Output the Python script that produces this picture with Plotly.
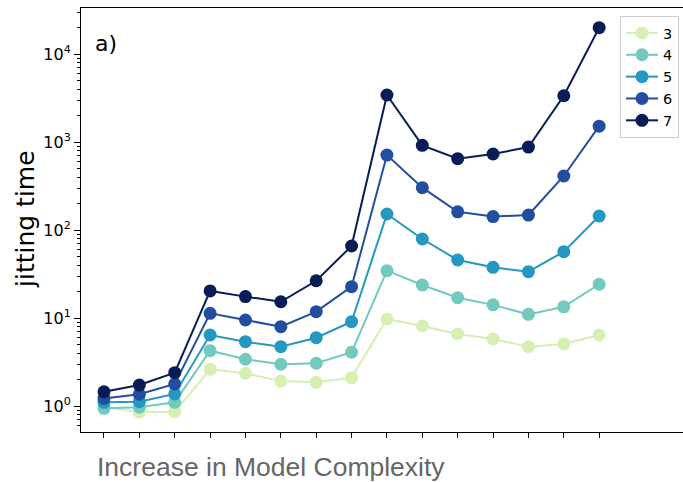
import plotly.graph_objects as go

steps = list(range(15))
series_names = ["3", "4", "5", "6", "7"]
s3 = [0.98, 0.85, 0.86, 2.61, 2.35, 1.92, 1.86, 2.10, 9.75, 8.11, 6.58, 5.77, 4.72, 5.07, 6.41]
s4 = [0.94, 0.97, 1.10, 4.25, 3.40, 2.98, 3.06, 4.08, 34.5, 23.7, 17.0, 14.1, 11.0, 13.4, 24.2]
s5 = [1.10, 1.12, 1.37, 6.41, 5.38, 4.72, 5.97, 9.08, 152, 79, 45.6, 37.7, 33.6, 56.7, 144]
s6 = [1.22, 1.36, 1.78, 11.3, 9.49, 7.96, 11.8, 22.7, 711, 303, 161, 142, 148, 411, 1515]
s7 = [1.45, 1.73, 2.39, 20.3, 17.5, 15.3, 26.5, 65.8, 3420, 917, 646, 731, 877, 3357, 19900]
colors = ["#d6efb3", "#73c9bd", "#2498c1", "#234da0", "#081d58"]
major_ticks = [1, 10, 100, 1000, 10000]
major_labels = ["10<sup>0</sup>", "10<sup>1</sup>", "10<sup>2</sup>", "10<sup>3</sup>", "10<sup>4</sup>"]
minor_ticks = [m * 10 ** e for e in range(-1, 5) for m in range(2, 10)]

Y_RANGE = [-0.2955, 4.523]

fig = go.Figure()
for name, vals, c in zip(series_names, [s3, s4, s5, s6, s7], colors):
    fig.add_trace(go.Scatter(
        x=steps, y=vals, name=name, mode="lines+markers",
        line=dict(color=c, width=2),
        marker=dict(color=c, size=13, line=dict(width=0)),
    ))

W0, W1, T0, B0 = 81, 683, 8, 432
PW, PH = W1 - W0, B0 - T0

fig.update_layout(
    width=683, height=482,
    margin=dict(l=W0, r=0, t=T0, b=482 - B0),
    plot_bgcolor="white", paper_bgcolor="white",
    font=dict(family="DejaVu Sans", color="black"),
    showlegend=True,
    legend=dict(
        x=(679 - W0) / PW, y=(B0 - 16) / PH, xanchor="right", yanchor="top",
        bordercolor="#cccccc", borderwidth=1, bgcolor="white",
        font=dict(size=14.5, family="DejaVu Sans"),
        itemwidth=32,
    ),
    xaxis=dict(
        range=[-0.65, 16.37], tickvals=steps, showticklabels=False,
        ticks="outside", ticklen=5, tickcolor="black", tickwidth=1,
        showline=True, linecolor="black", linewidth=1, mirror=True,
        showgrid=False, zeroline=False,
    ),
    yaxis=dict(
        type="log", range=Y_RANGE,
        tickmode="array", tickvals=major_ticks, ticktext=major_labels,
        ticks="outside", ticklen=6, tickcolor="black", tickwidth=1,
        tickfont=dict(size=16, family="DejaVu Sans"),
        minor=dict(tickmode="array", tickvals=minor_ticks, ticks="outside",
                   ticklen=3, tickcolor="black", tickwidth=1, showgrid=False),
        showline=True, linecolor="black", linewidth=1, mirror=False,
        showgrid=False, zeroline=False,
    ),
    annotations=[
        dict(text="jitting time", x=(25 - W0) / PW, y=(B0 - 219) / PH, xref="paper", yref="paper",
             xanchor="center", yanchor="middle",
             showarrow=False, textangle=-90, font=dict(size=25, family="DejaVu Sans", color="black")),
        dict(text="a)", x=(93 - W0) / PW, y=(B0 - 44) / PH, xref="paper", yref="paper",
             xanchor="left", yanchor="middle",
             showarrow=False, font=dict(size=22, family="DejaVu Sans", color="black")),
        dict(text="Increase in Model Complexity", x=(95 - W0) / PW, y=(B0 - 450) / PH,
             xref="paper", yref="paper",
             xanchor="left", yanchor="top", showarrow=False,
             font=dict(size=26.5, family="Liberation Sans", color="#666666")),
    ],
)

fig.write_html("out.html")
